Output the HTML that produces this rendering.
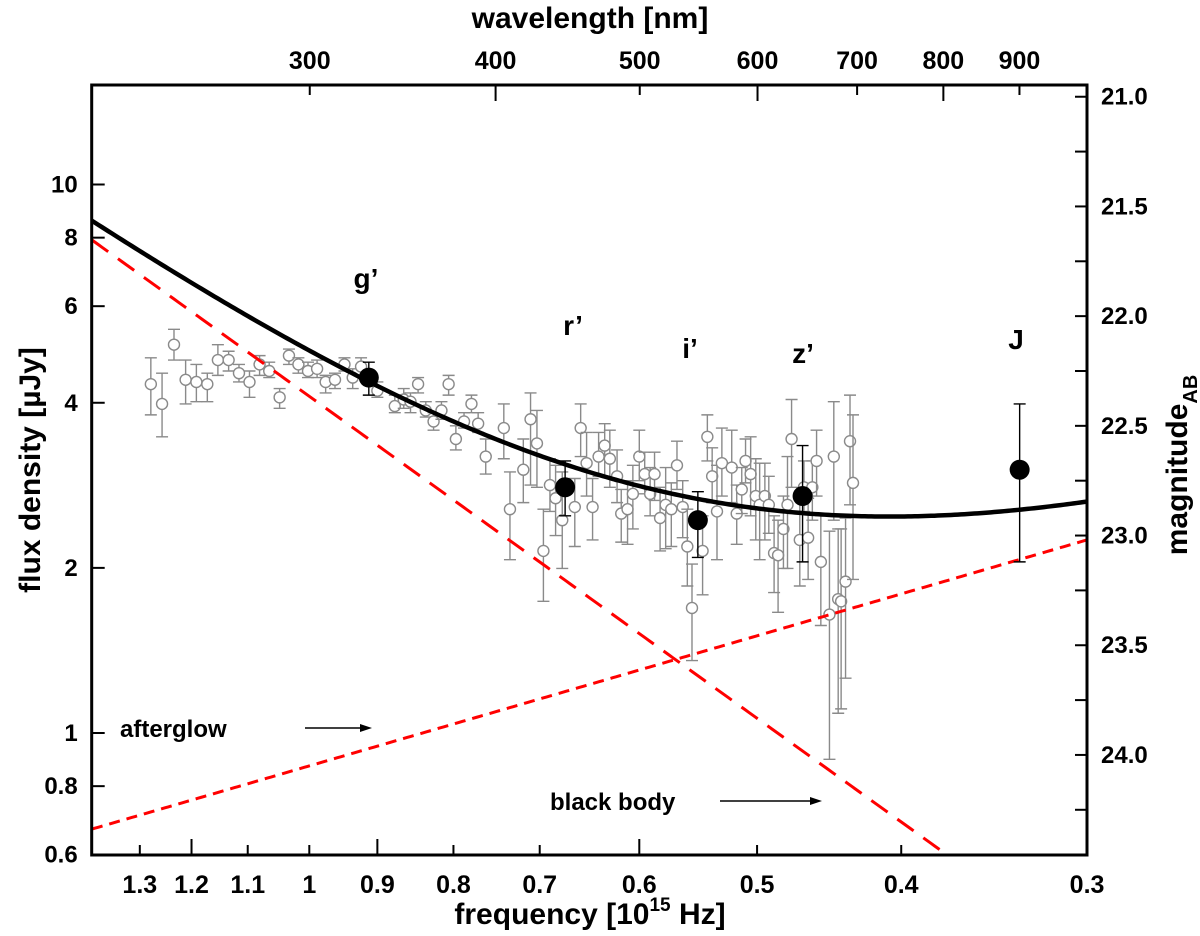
<!DOCTYPE html>
<html><head><meta charset="utf-8"><style>
html,body{margin:0;padding:0;background:#fff;}
svg{display:block;font-family:"Liberation Sans",Arial,sans-serif;}
</style></head><body>
<svg id="chart" width="1200" height="936" viewBox="0 0 1200 936" xmlns="http://www.w3.org/2000/svg">
<g id="grey"></g>
<g id="curves"></g>
<g id="black"></g>
<g id="axes"></g>
<text x="590" y="28" text-anchor="middle" font-size="30" font-weight="bold">wavelength [nm]</text>
<text x="590" y="924" text-anchor="middle" font-size="30" font-weight="bold">frequency [10<tspan dy="-13" font-size="19">15</tspan><tspan dy="13"> Hz]</tspan></text>
<text transform="translate(40,470) rotate(-90)" text-anchor="middle" font-size="30" font-weight="bold">flux density [µJy]</text>
<text transform="translate(1187,465) rotate(-90)" text-anchor="middle" font-size="30" font-weight="bold">magnitude<tspan dy="10" font-size="20">AB</tspan></text>
<g font-size="28" font-weight="bold">
<text x="366" y="288" text-anchor="middle">g’</text>
<text x="573" y="335" text-anchor="middle">r’</text>
<text x="690" y="358" text-anchor="middle">i’</text>
<text x="803" y="363" text-anchor="middle">z’</text>
<text x="1016" y="349" text-anchor="middle">J</text>
</g>
<text x="120" y="737" font-size="24" font-weight="bold">afterglow</text>
<g><line x1="305" y1="728" x2="362" y2="728" stroke="#000" stroke-width="1.5"/><polygon points="372,728 360,724 360,732" fill="#000"/></g>
<text x="550" y="810" font-size="24" font-weight="bold">black body</text>
<g><line x1="720" y1="801" x2="812" y2="801" stroke="#000" stroke-width="1.5"/><polygon points="822,801 810,797 810,805" fill="#000"/></g>
</svg>
<script>
// spectrum points (frequency in 1e15 Hz, AB magnitudes)
const greyFreq=[1.278,1.256,1.233,1.211,1.191,1.171,1.152,1.133,1.115,1.097,1.080,1.064,1.047,1.032,1.017,1.002,0.988,0.975,0.961,0.947,0.935,0.923,0.900,0.876,0.864,0.855,0.845,0.835,0.825,0.815,0.806,0.797,0.787,0.778,0.770,0.761,0.740,0.733,0.718,0.710,0.703,0.696,0.689,0.683,0.676,0.663,0.657,0.651,0.645,0.639,0.633,0.628,0.621,0.617,0.611,0.606,0.600,0.595,0.590,0.586,0.581,0.576,0.571,0.566,0.561,0.557,0.553,0.544,0.540,0.536,0.532,0.528,0.520,0.516,0.512,0.509,0.505,0.501,0.498,0.494,0.491,0.487,0.484,0.480,0.477,0.474,0.468,0.465,0.462,0.459,0.456,0.453,0.447,0.444,0.441,0.439,0.436,0.433,0.431];
const greyMag=[22.31,22.40,22.13,22.29,22.30,22.31,22.20,22.20,22.26,22.30,22.22,22.25,22.37,22.18,22.22,22.25,22.24,22.30,22.29,22.22,22.28,22.23,22.34,22.41,22.38,22.39,22.31,22.43,22.48,22.43,22.31,22.56,22.48,22.40,22.49,22.64,22.51,22.88,22.70,22.47,22.58,23.07,22.77,22.83,22.93,22.87,22.51,22.67,22.87,22.64,22.59,22.65,22.73,22.90,22.88,22.81,22.64,22.72,22.81,22.72,22.92,22.86,22.88,22.68,22.87,23.05,23.33,23.07,22.55,22.73,22.89,22.67,22.69,22.90,22.79,22.66,22.72,22.82,22.86,22.82,22.86,23.08,23.09,22.97,22.86,22.56,23.02,22.78,23.01,22.78,22.66,23.12,23.36,22.64,23.29,23.30,23.21,22.57,22.76];
const greyMagTop=[22.19,22.26,22.06,22.20,22.22,22.26,22.13,22.16,22.22,22.25,22.18,22.21,22.33,22.15,22.19,22.21,22.20,22.27,22.26,22.19,22.24,22.19,22.30,22.36,22.33,22.35,22.28,22.39,22.44,22.39,22.27,22.50,22.44,22.36,22.44,22.56,22.40,22.71,22.56,22.35,22.43,22.88,22.65,22.68,22.71,22.74,22.40,22.53,22.74,22.53,22.49,22.52,22.61,22.79,22.75,22.68,22.52,22.62,22.69,22.62,22.78,22.69,22.76,22.57,22.75,22.88,23.13,22.91,22.45,22.60,22.68,22.51,22.52,22.77,22.69,22.56,22.55,22.65,22.67,22.67,22.73,22.91,22.93,22.82,22.64,22.38,22.81,22.66,22.83,22.66,22.52,22.91,22.98,22.39,22.97,22.97,22.92,22.36,22.45];
const greyMagBot=[22.45,22.55,22.20,22.40,22.39,22.39,22.27,22.25,22.30,22.37,22.27,22.28,22.42,22.22,22.26,22.28,22.28,22.35,22.33,22.25,22.33,22.27,22.37,22.44,22.42,22.44,22.35,22.46,22.52,22.47,22.36,22.61,22.51,22.44,22.53,22.72,22.65,23.11,22.85,22.77,22.78,23.30,22.89,23.00,23.15,23.05,22.64,22.82,23.02,22.73,22.73,22.78,22.85,23.03,23.04,22.97,22.75,22.81,22.91,22.84,23.07,23.06,23.05,22.79,23.01,23.23,23.57,23.27,22.66,22.85,23.11,22.82,22.85,23.04,22.90,22.76,22.91,23.02,23.11,23.02,22.99,23.26,23.35,23.15,23.15,22.78,23.23,22.89,23.20,22.93,22.82,23.41,24.02,22.93,23.81,23.79,23.65,22.86,23.20];
// broadband photometry
const bandNames=["g'","r'","i'","z'","J"];
const bandFreq=[0.912,0.673,0.548,0.466,0.333];
const bandMag=[22.28,22.78,22.93,22.82,22.70];
const bandMagTop=[22.21,22.66,22.80,22.59,22.40];
const bandMagBot=[22.36,22.91,23.10,23.12,23.12];
// model components: flux = amp * nu^index (µJy, nu in 1e15 Hz)
const modelNames=["black-body","afterglow"];
const modelAmp=[4.11,0.871];
const modelIndex=[1.95,-0.788];
// axis ticks
const xTicks=[1.3,1.2,1.1,1,0.9,0.8,0.7,0.6,0.5,0.4,0.3];
const xLong=[1.2,0.9,0.6];
const topTicks=[300,400,500,600,700,800,900,1000];
const topLabels=[300,400,500,600,700,800,900];
const topLong=[400,600,800];
const yTicks=[0.6,0.8,1,2,4,6,8,10];
const magTicks=[21.0,21.25,21.5,21.75,22.0,22.25,22.5,22.75,23.0,23.25,23.5,23.75,24.0,24.25];
const magLabels=[21.0,21.5,22.0,22.5,23.0,23.5,24.0];

const L=91.7,R=1087,T=85,B=855;
const NS="http://www.w3.org/2000/svg";
function X(nu){return 309.3-646*Math.log(nu);}
function Yf(f){return 733-548.5*Math.log10(f);}
function Ym(m){return Yf(Math.pow(10,(23.9-m)/2.5));}
function el(tag,attrs,parent){const e=document.createElementNS(NS,tag);for(const k in attrs)e.setAttribute(k,attrs[k]);parent.appendChild(e);return e;}

const gG=document.getElementById('grey');
for(let i=0;i<greyFreq.length;i++){
  const g=el('g',{},gG);
  
  
  const x=X(greyFreq[i]),y=Ym(greyMag[i]),yt=Ym(greyMagTop[i]),yb=Ym(greyMagBot[i]);
  el('path',{d:`M${x},${yt}V${yb}M${x-6},${yt}H${x+6}M${x-6},${yb}H${x+6}`,stroke:'#8a8a8a','stroke-width':1.4,fill:'none'},g);
  el('circle',{cx:x,cy:y,r:5.5,fill:'#fff',stroke:'#8a8a8a','stroke-width':1.4},g);
}

const gC=document.getElementById('curves');
el('clipPath',{id:'clip'},gC).appendChild(document.createElementNS(NS,'rect'));
const cr=gC.querySelector('clipPath rect');cr.setAttribute('x',L);cr.setAttribute('y',T);cr.setAttribute('width',R-L);cr.setAttribute('height',B-T);
function curvePath(fn){let d='';for(let k=0;k<=300;k++){const nu=Math.exp(Math.log(1.4)+(Math.log(0.3)-Math.log(1.4))*k/300);d+=(k?'L':'M')+X(nu).toFixed(2)+','+Yf(fn(nu)).toFixed(2);}return d;}
const bb=el('path',{d:curvePath(nu=>modelAmp[0]*Math.pow(nu,modelIndex[0])),stroke:'#ff0000','stroke-width':3,fill:'none','stroke-dasharray':'20 12','clip-path':'url(#clip)'},gC);


const ag=el('path',{d:curvePath(nu=>modelAmp[1]*Math.pow(nu,modelIndex[1])),stroke:'#ff0000','stroke-width':3,fill:'none','stroke-dasharray':'11 7','clip-path':'url(#clip)'},gC);


const tot=el('path',{d:curvePath(nu=>modelAmp[0]*Math.pow(nu,modelIndex[0])+modelAmp[1]*Math.pow(nu,modelIndex[1])),stroke:'#000','stroke-width':4.5,fill:'none','clip-path':'url(#clip)'},gC);



const gB=document.getElementById('black');
for(let i=0;i<bandFreq.length;i++){
  const g=el('g',{},gB);
  
  
  const x=X(bandFreq[i]),y=Ym(bandMag[i]),yt=Ym(bandMagTop[i]),yb=Ym(bandMagBot[i]);
  el('path',{d:`M${x},${yt}V${yb}M${x-6},${yt}H${x+6}M${x-6},${yb}H${x+6}`,stroke:'#000','stroke-width':1.4,fill:'none'},g);
  el('circle',{cx:x,cy:y,r:10,fill:'#000'},g);
}

const gA=document.getElementById('axes');
const fr=el('rect',{x:L,y:T,width:R-L,height:B-T,fill:'none',stroke:'#000','stroke-width':3},gA);


const narrow='"Liberation Sans Narrow","Liberation Sans",sans-serif';
xTicks.forEach(v=>{const x=X(v);const len=xLong.includes(v)?16:10;
  el('line',{x1:x,y1:B,x2:x,y2:B-len,stroke:'#000','stroke-width':2},gA);
  const t=el('text',{x:x,y:B+38,'text-anchor':'middle','font-size':25,'font-weight':'bold','font-family':narrow},gA);t.textContent=String(v);
  
  });
topTicks.forEach(v=>{const x=X(299.79/v);if(x>R+1)return;const len=topLong.includes(v)?16:10;
  el('line',{x1:x,y1:T,x2:x,y2:T+len,stroke:'#000','stroke-width':2},gA);});
topLabels.forEach(v=>{const x=X(299.79/v);
  const t=el('text',{x:x,y:T-16,'text-anchor':'middle','font-size':25,'font-weight':'bold','font-family':narrow},gA);t.textContent=String(v);
  
  });
yTicks.forEach(v=>{const y=Yf(v);
  el('line',{x1:L,y1:y,x2:L+13,y2:y,stroke:'#000','stroke-width':2},gA);
  const t=el('text',{x:L-14,y:y+8,'text-anchor':'end','font-size':24,'font-weight':'bold'},gA);t.textContent=String(v);
  
  });
magTicks.forEach(v=>{const y=Ym(v);if(y>B-2)return;
  el('line',{x1:R,y1:y,x2:R-12,y2:y,stroke:'#000','stroke-width':2},gA);});
magLabels.forEach(v=>{const y=Ym(v);
  const t=el('text',{x:R+14,y:y+8,'font-size':24,'font-weight':'bold'},gA);t.textContent=v.toFixed(1);
  
  });
</script>
</body></html>
